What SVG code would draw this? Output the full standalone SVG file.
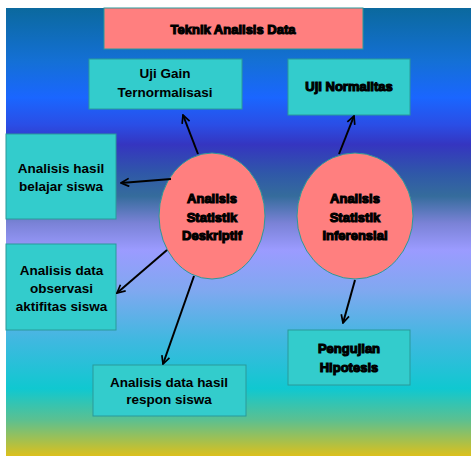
<svg xmlns="http://www.w3.org/2000/svg" width="471" height="457" viewBox="0 0 471 457">
  <defs>
    <linearGradient id="bg" x1="0" y1="8" x2="0" y2="456" gradientUnits="userSpaceOnUse">
      <stop offset="0" stop-color="#0b699e"/>
      <stop offset="0.12" stop-color="#1470d6"/>
      <stop offset="0.2" stop-color="#1a66ff"/>
      <stop offset="0.26" stop-color="#2a4ee6"/>
      <stop offset="0.305" stop-color="#3535c0"/>
      <stop offset="0.37" stop-color="#2f58a8"/>
      <stop offset="0.42" stop-color="#356c9c"/>
      <stop offset="0.48" stop-color="#7a82d6"/>
      <stop offset="0.54" stop-color="#9b9bff"/>
      <stop offset="0.63" stop-color="#80a8f0"/>
      <stop offset="0.74" stop-color="#40b8e0"/>
      <stop offset="0.85" stop-color="#10c8d0"/>
      <stop offset="0.92" stop-color="#5cc090"/>
      <stop offset="1" stop-color="#dcc01c"/>
    </linearGradient>
    <marker id="arrow" viewBox="0 0 10 10" refX="9" refY="5" markerWidth="10" markerHeight="10" markerUnits="userSpaceOnUse" orient="auto">
      <path d="M1,1 L9,5 L1,9" fill="none" stroke="#000" stroke-width="1.7"/>
    </marker>
    <style>
      .box { fill: #33cccc; stroke: #2a9a9a; stroke-width: 1; }
      .hot { fill: #ff7f7f; stroke: #2a9a9a; stroke-width: 1; }
      .t { font-family: "Liberation Sans", Arial, sans-serif; font-weight: bold; font-size: 13.5px; fill: #000; text-anchor: middle; }
      .heavy { font-family: "Liberation Sans", Arial, sans-serif; font-weight: bold; font-size: 13px; fill: #000; stroke: #000; stroke-width: 1.1; text-anchor: middle; }
      .link { stroke: #000; stroke-width: 2; fill: none; marker-end: url(#arrow); }
    </style>
  </defs>

  <rect x="6" y="8" width="465" height="448" fill="url(#bg)"/>

  <g id="title">
    <rect class="hot" x="104" y="8" width="259" height="41"/>
    <text class="heavy" x="233" y="34">Teknik Analisis Data</text>
  </g>

  <g id="uji-gain">
    <rect class="box" x="89" y="59" width="153" height="50"/>
    <text class="t" x="165" y="78">Uji Gain</text>
    <text class="t" x="165" y="97">Ternormalisasi</text>
  </g>

  <g id="uji-normalitas">
    <rect class="box" x="288" y="59" width="122" height="56"/>
    <text class="heavy" x="349" y="91">Uji Normalitas</text>
  </g>

  <g id="hasil-belajar">
    <rect class="box" x="6" y="134" width="110" height="85"/>
    <text class="t" x="61" y="173">Analisis hasil</text>
    <text class="t" x="61" y="191">belajar siswa</text>
  </g>

  <g id="observasi">
    <rect class="box" x="6" y="244" width="110" height="86"/>
    <text class="t" x="61.5" y="275">Analisis data</text>
    <text class="t" x="61.5" y="293">observasi</text>
    <text class="t" x="61.5" y="311">aktifitas siswa</text>
  </g>

  <g id="respon-siswa">
    <rect class="box" x="93" y="365" width="153" height="51"/>
    <text class="t" x="169" y="387">Analisis data hasil</text>
    <text class="t" x="169" y="404">respon siswa</text>
  </g>

  <g id="pengujian">
    <rect class="box" x="288" y="330" width="122" height="55"/>
    <text class="heavy" x="349" y="353">Pengujian</text>
    <text class="heavy" x="349" y="372">Hipotesis</text>
  </g>

  <g id="deskriptif">
    <ellipse class="hot" cx="212" cy="216" rx="53" ry="63"/>
    <text class="heavy" x="212" y="203">Analisis</text>
    <text class="heavy" x="212" y="222">Statistik</text>
    <text class="heavy" x="212" y="240">Deskriptif</text>
  </g>

  <g id="inferensial">
    <ellipse class="hot" cx="355" cy="216" rx="58" ry="63"/>
    <text class="heavy" x="355" y="203">Analisis</text>
    <text class="heavy" x="355" y="222">Statistik</text>
    <text class="heavy" x="355" y="240">Inferensial</text>
  </g>

  <g id="connectors">
    <line class="link" x1="198" y1="154" x2="183" y2="115"/>
    <line class="link" x1="339" y1="154" x2="354" y2="116"/>
    <line class="link" x1="171" y1="179" x2="121" y2="183"/>
    <line class="link" x1="167" y1="250" x2="117" y2="293"/>
    <line class="link" x1="194" y1="276" x2="163" y2="364"/>
    <line class="link" x1="355" y1="280" x2="343" y2="323"/>
  </g>
</svg>
